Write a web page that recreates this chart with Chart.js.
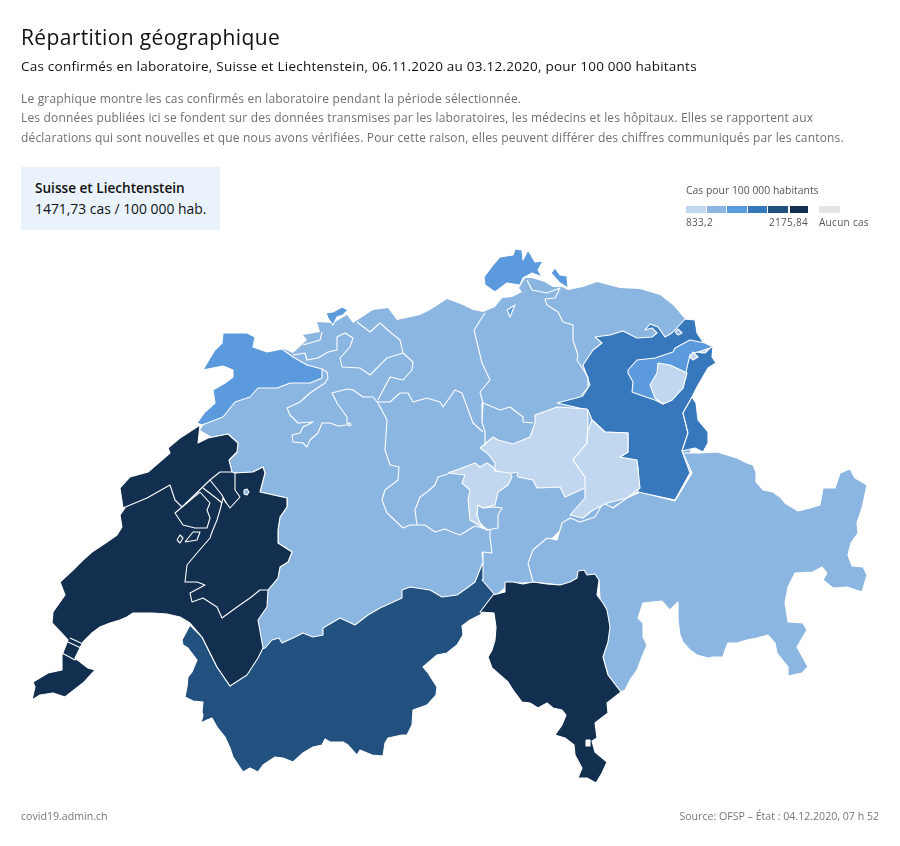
<!DOCTYPE html>
<html lang="fr">
<head>
<meta charset="utf-8">
<title>Répartition géographique</title>
<script src="https://cdn.jsdelivr.net/npm/chart.js@4.4.4/dist/chart.umd.min.js"></script>
<style>
  html, body { margin: 0; padding: 0; background: #fff; }
  body { width: 900px; height: 846px; position: relative; overflow: hidden; font-family: "Open Sans", sans-serif; }
  #map { position: absolute; left: 0; top: 0; }
  .txt { position: absolute; white-space: nowrap; line-height: 1; }
  #title { left: 21px; top: 27px; font-size: 21px; color: #111; letter-spacing: .36px; }
  #sub { left: 21px; top: 60px; font-size: 13.5px; color: #111; letter-spacing: .23px; }
  .desc { left: 21px; font-size: 12px; color: #6f6f6f; letter-spacing: .17px; }
  #box { position: absolute; left: 21px; top: 167px; width: 199px; height: 63px; background: #eaf2fb; }
  #boxName { left: 35px; top: 181px; font-size: 13.6px; font-weight: 600; color: #111; }
  #boxVal { left: 35px; top: 202px; font-size: 13.9px; color: #111; }
  #legTitle { left: 686px; top: 185px; font-size: 10.4px; color: #555; }
  .sw { position: absolute; top: 206px; height: 7px; }
  .legLab { top: 217px; font-size: 10px; color: #555; letter-spacing: .3px; }
  .foot { top: 811px; font-size: 10.6px; color: #777; }
</style>
</head>
<body>
<canvas id="map" width="900" height="846"></canvas>
<div class="txt" id="title">Répartition géographique</div>
<div class="txt" id="sub">Cas confirmés en laboratoire, Suisse et Liechtenstein, 06.11.2020 au 03.12.2020, pour 100 000 habitants</div>
<div class="txt desc" style="top:93px">Le graphique montre les cas confirmés en laboratoire pendant la période sélectionnée.</div>
<div class="txt desc" style="top:112px">Les données publiées ici se fondent sur des données transmises par les laboratoires, les médecins et les hôpitaux. Elles se rapportent aux</div>
<div class="txt desc" style="top:132px">déclarations qui sont nouvelles et que nous avons vérifiées. Pour cette raison, elles peuvent différer des chiffres communiqués par les cantons.</div>
<div id="box"></div>
<div class="txt" id="boxName">Suisse et Liechtenstein</div>
<div class="txt" id="boxVal">1471,73 cas / 100 000 hab.</div>
<div class="txt" id="legTitle">Cas pour 100 000 habitants</div>
<div id="legend"></div>
<div class="txt legLab" style="left:686px">833,2</div>
<div class="txt legLab" style="right:92px">2175,84</div>
<div class="txt legLab" style="left:819px">Aucun cas</div>
<div class="txt foot" style="left:21px">covid19.admin.ch</div>
<div class="txt foot" style="right:21px">Source: OFSP – État : 04.12.2020, 07 h 52</div>

<script>
/* ── Colour classes ───────────────────────────────────────────────── */
const CLASS_COLORS = ["#c1d7f0", "#8cb6e2", "#5b9adc", "#3778bc", "#22507f", "#132f4f"];
const NO_CASE_COLOR = "#e5e5e5";

/* ── Region outlines, map units ───────────────────────────────────── */
const mittelland = [[200,430],[225,445],[225,475],[258,485],[262,590],[250,625],[255,650],[290,660],[350,650],[410,620],[457,612],[490,600],[510,583],[533,582],[530,560],[560,530],[600,515],[640,490],[675,500],[690,470],[690,440],[686,400],[690,350],[685,319],[673,305],[660,295],[640,289],[620,288],[597,282],[583,287],[568,290],[562,287],[553,287],[545,282],[532,278],[525,278],[519,288],[522,292],[512,297],[502,298],[495,307],[483,312],[473,310],[463,305],[447,299],[430,310],[420,315],[397,320],[388,308],[373,310],[353,323],[347,315],[333,323],[317,322],[320,332],[303,335],[307,340],[293,353],[284,349],[260,360],[230,390]];
const jura = [[197,423],[205,412],[215,403],[213,390],[225,383],[233,377],[233,370],[223,366],[203,370],[210,358],[215,350],[222,343],[223,333],[233,333],[247,333],[255,337],[253,347],[267,352],[282,349],[293,357],[307,365],[322,369],[322,378],[310,383],[290,383],[277,388],[258,388],[250,397],[235,402],[223,417],[202,425]];
const baleVille = [[326,313],[333,312],[342,307],[348,310],[343,315],[337,317],[333,325],[328,318]];
const schaffhouse = [[484,277],[493,265],[500,257],[513,255],[515,249],[522,250],[523,260],[528,250],[535,262],[543,261],[538,270],[542,277],[532,273],[523,278],[520,285],[507,283],[495,292],[485,285]];
const schaffhouse2 = [[555,268],[560,275],[567,276],[568,288],[560,283],[551,273]];
const schaffhouse3 = [[507,310],[515,305],[510,317]];
const valais = [[190,625],[182,640],[183,645],[188,648],[197,660],[192,672],[188,677],[187,687],[185,697],[193,701],[203,702],[202,712],[203,715],[201,723],[207,720],[212,718],[217,727],[225,737],[230,748],[233,757],[243,772],[250,768],[258,772],[263,765],[275,757],[283,758],[293,762],[303,753],[313,747],[322,745],[325,739],[330,742],[343,742],[348,745],[357,755],[360,750],[372,755],[383,756],[385,743],[388,738],[402,735],[407,735],[412,725],[413,710],[427,705],[436,695],[437,687],[428,673],[423,667],[437,655],[447,653],[457,645],[463,635],[462,626],[470,620],[480,615],[495,595],[482,580],[483,562],[475,582],[467,588],[457,595],[442,597],[430,590],[410,587],[402,590],[402,598],[380,608],[368,615],[355,625],[340,618],[323,628],[323,635],[313,637],[303,633],[293,638],[282,643],[279,638],[272,640],[265,648],[258,650],[230,686],[217,667],[202,637]];
const grisons = [[528,563],[533,550],[547,538],[557,540],[562,523],[570,518],[580,522],[595,517],[603,503],[613,508],[627,498],[640,492],[675,501],[692,473],[683,453],[700,453],[717,452],[737,458],[747,463],[753,465],[756,472],[756,482],[763,490],[773,492],[780,497],[785,503],[793,508],[798,511],[810,508],[820,505],[823,488],[835,488],[840,473],[850,469],[855,478],[867,485],[862,508],[857,523],[858,533],[851,543],[848,555],[852,566],[863,567],[867,575],[862,592],[847,587],[833,588],[823,580],[827,573],[822,567],[813,572],[795,573],[788,587],[785,603],[788,622],[803,623],[807,630],[797,647],[808,667],[802,673],[788,676],[788,667],[777,653],[775,643],[768,635],[757,638],[747,640],[737,643],[728,643],[725,650],[723,657],[713,657],[708,658],[697,655],[690,650],[683,642],[680,635],[678,620],[678,602],[670,610],[662,601],[643,603],[638,618],[643,623],[643,637],[647,645],[642,657],[637,670],[630,680],[625,690],[621,692],[608,675],[603,657],[599,580],[560,585],[533,582]];
const tessin = [[505,582],[513,582],[523,584],[533,582],[547,584],[560,585],[570,582],[577,578],[578,571],[584,570],[587,575],[595,574],[599,580],[597,595],[603,603],[607,610],[610,627],[608,642],[603,657],[608,675],[621,692],[607,703],[608,713],[595,723],[597,738],[592,741],[595,752],[607,762],[602,773],[596,783],[587,778],[578,778],[582,768],[575,755],[574,745],[565,738],[555,735],[562,725],[566,715],[562,710],[553,708],[547,703],[538,708],[530,703],[522,702],[513,690],[508,682],[500,675],[492,668],[488,657],[492,650],[495,640],[496,627],[494,613],[480,612],[493,595],[505,592]];
const campione = [[586,740],[590,740],[590,746],[586,746]];
const saintGall = [[557,403],[580,397],[590,385],[583,365],[593,350],[602,343],[595,337],[610,335],[623,331],[637,338],[652,337],[657,333],[652,328],[645,330],[650,324],[658,327],[665,337],[672,333],[685,319],[695,320],[697,333],[703,342],[713,346],[712,357],[716,363],[708,368],[697,387],[692,397],[683,413],[688,433],[682,451],[690,473],[675,500],[638,492],[638,467],[620,457],[628,452],[628,433],[605,432],[592,420],[588,410]];
const liechtenstein = [[692,397],[696,403],[698,420],[708,432],[708,443],[703,452],[695,448],[682,451],[688,433],[683,413]];
const enclaveSg = [[675,332],[678,329],[682,333],[678,335]];
const appenzellRh = [[628,370],[637,360],[655,358],[673,352],[675,348],[690,340],[705,343],[713,347],[705,350],[703,353],[697,352],[690,355],[688,363],[685,377],[683,388],[672,400],[663,404],[655,400],[640,395],[632,392],[633,382],[628,373]];
const appenzellRi = [[658,363],[670,365],[687,373],[683,388],[672,400],[663,404],[655,398],[650,385],[657,373]];
const appenzellRi2 = [[690,357],[693,352],[698,357],[693,360]];
const appenzellRi3 = [[698,352],[710,348],[705,353]];
const schwyz = [[480,448],[493,437],[498,440],[513,444],[530,437],[535,423],[535,415],[557,407],[587,409],[588,418],[587,443],[573,460],[585,477],[587,487],[565,497],[560,487],[537,488],[533,480],[518,477],[517,472],[503,475],[495,470],[495,463],[487,453]];
const glaris = [[592,420],[605,432],[628,433],[628,452],[620,457],[637,460],[640,488],[627,498],[607,503],[593,510],[583,518],[570,515],[585,498],[585,477],[573,460],[587,443],[588,430]];
const obwald = [[448,473],[462,468],[475,463],[480,467],[487,463],[493,467],[495,471],[510,473],[512,477],[508,485],[498,492],[495,505],[483,508],[478,505],[477,515],[480,523],[487,530],[470,520],[468,500],[470,490],[462,483],[465,475]];
const nidwald = [[478,505],[483,508],[495,507],[502,508],[498,515],[498,528],[487,530],[480,523],[477,515]];
const vaud = [[200,425],[198,443],[208,438],[228,434],[238,443],[237,452],[229,460],[232,472],[235,473],[253,472],[263,467],[265,473],[260,492],[287,498],[287,507],[280,517],[278,530],[278,543],[292,552],[288,562],[280,567],[278,578],[268,590],[267,607],[258,620],[263,648],[258,658],[247,675],[230,686],[217,667],[202,637],[190,623],[180,617],[167,614],[153,613],[133,613],[127,617],[120,620],[110,623],[100,627],[92,633],[83,642],[75,658],[88,668],[95,670],[83,683],[65,697],[53,693],[40,695],[32,700],[35,687],[33,682],[48,673],[62,670],[62,655],[68,640],[52,623],[53,612],[65,595],[60,582],[73,570],[83,560],[92,552],[107,542],[117,535],[122,527],[120,515],[125,508],[120,488],[130,477],[148,472],[170,453],[168,448],[180,438]];
const neuchatel = [[123,508],[120,488],[130,477],[148,472],[170,453],[168,448],[180,438],[200,425],[198,443],[208,438],[228,434],[238,443],[237,452],[229,460],[232,472],[220,472],[210,480],[182,507],[175,500],[170,485],[147,498]];
const fribourg = [[268,590],[278,578],[280,567],[288,562],[292,552],[278,543],[278,530],[280,517],[287,507],[287,498],[260,492],[265,473],[263,467],[253,472],[235,473],[235,490],[240,497],[230,508],[223,498],[220,510],[217,520],[212,532],[210,538],[197,553],[187,565],[185,582],[197,582],[205,585],[190,593],[192,602],[203,598],[217,607],[222,618],[237,607],[250,598],[260,590]];
const estavayer = [[200,492],[175,513],[183,525],[195,528],[207,528],[210,518],[207,510],[210,503]];
const enclaveVd1 = [[177,540],[180,535],[183,538],[180,543]];
const enclaveVd2 = [[185,542],[193,532],[200,532],[197,540]];
const enclaveLac = [[244,490],[247,489],[249,492],[247,495],[244,494]];
const enclaveSo = [[348,423],[350,423],[351,425],[349,426]];

/* ── Inner borders that close no shape of their own ───────────────── */
const limiteBerne = [[322,369],[327,372],[328,378],[325,383],[310,393],[300,402],[287,408],[290,415],[298,423],[313,422],[303,427],[300,433],[292,435],[293,442],[303,443],[307,447],[310,440],[318,433],[322,423],[330,423],[338,426],[347,425],[347,417],[337,403],[332,393],[347,389],[353,390],[363,397],[373,397],[378,403],[387,420],[385,450],[390,465],[399,467],[398,480],[385,490],[382,500],[387,513],[403,528],[410,525],[425,525],[435,532],[445,529],[452,532],[460,535],[475,526],[482,528],[490,530],[490,538],[492,553],[482,552],[483,562]];
const limiteLucerne = [[417,525],[415,510],[420,497],[427,492],[435,485],[438,477],[448,474]];
const limiteSoleure = [[378,400],[390,377],[403,380],[412,370],[413,362],[403,353],[400,340],[390,332],[380,323],[370,332],[357,322]];
const limiteBale = [[403,353],[387,358],[370,375],[360,368],[342,367],[340,358],[350,347],[353,338],[345,333],[337,337],[337,350],[328,352],[318,358],[307,360],[305,353],[293,355]];
const limiteBale2 = [[303,345],[320,340],[322,332]];
const limiteArgovie = [[377,402],[390,402],[400,393],[408,393],[413,402],[427,398],[440,402],[443,407],[455,390],[462,393],[473,423],[483,432]];
const limiteZurichO = [[485,313],[474,330],[482,363],[490,380],[480,392],[483,403],[482,422],[485,432],[485,445]];
const limiteZurichE = [[527,280],[532,290],[547,293],[560,288],[555,298],[545,299],[547,305],[558,312],[563,322],[573,325],[573,340],[578,355],[577,360],[588,377],[588,388],[582,397]];
const limiteZoug = [[483,403],[500,410],[510,407],[523,417],[523,422],[533,423]];
const limiteVully1 = [[210,480],[222,495],[226,503]];
const limiteVully2 = [[203,488],[216,498],[222,503]];
const limiteGeneve1 = [[70,638],[83,644]];
const limiteGeneve2 = [[68,642],[81,648]];
const limiteGeneve3 = [[62,653],[75,660],[80,652]];

/* Class index per region, drawn back to front */
const regionShapes = [mittelland, jura, baleVille, schaffhouse, schaffhouse2, schaffhouse3, valais, grisons, tessin, campione, saintGall, liechtenstein, enclaveSg, appenzellRh, appenzellRi, appenzellRi2, appenzellRi3, schwyz, glaris, obwald, nidwald, enclaveSo, vaud, neuchatel, fribourg, estavayer, enclaveVd1, enclaveVd2, enclaveLac];
const regionClasses = [1, 2, 2, 2, 2, 2, 4, 1, 5, -1, 3, 3, 1, 2, 0, 0, 0, 0, 0, 0, 1, 1, 5, 5, 5, 5, 5, 5, 1];
const borderLines = [limiteBerne, limiteLucerne, limiteSoleure, limiteBale, limiteBale2, limiteArgovie, limiteZurichO, limiteZurichE, limiteZoug, limiteVully1, limiteVully2, limiteGeneve1, limiteGeneve2, limiteGeneve3];

/* ── Legend swatches ──────────────────────────────────────────────── */
const legendEl = document.getElementById("legend");
const swatchLeft = [686, 707, 727, 748, 768, 790];
const swatchWidth = [20, 19, 20, 19, 20, 18];
CLASS_COLORS.forEach((c, i) => {
  legendEl.insertAdjacentHTML("beforeend", `<div class="sw" style="left:${swatchLeft[i]}px;width:${swatchWidth[i]}px;background:${c}"></div>`);
});
legendEl.insertAdjacentHTML("beforeend", `<div class="sw" style="left:819px;width:21px;background:${NO_CASE_COLOR}"></div>`);

/* ── Chart ────────────────────────────────────────────────────────── */
const toPoints = pts => pts.map(([x, y]) => ({ x, y }));

const shapeSets = regionShapes.map((pts, i) => ({
  data: toPoints([...pts, pts[0]]),
  showLine: true,
  fill: "shape",
  backgroundColor: regionClasses[i] < 0 ? "#fff" : CLASS_COLORS[regionClasses[i]],
  borderColor: "#fff",
  borderWidth: i === 0 ? 0 : 1.1,
  borderJoinStyle: "round",
  pointRadius: 0,
  tension: 0,
  order: regionShapes.length + 20 - i
}));
const lineSets = borderLines.map(pts => ({
  data: toPoints(pts),
  showLine: true,
  fill: false,
  borderColor: "#fff",
  borderWidth: 1.1,
  borderJoinStyle: "round",
  pointRadius: 0,
  tension: 0,
  order: 0
}));

new Chart(document.getElementById("map"), {
  type: "scatter",
  data: { datasets: [...shapeSets, ...lineSets] },
  options: {
    responsive: false,
    animation: false,
    events: [],
    layout: { padding: 0 },
    plugins: { legend: { display: false }, tooltip: { enabled: false }, title: { display: false } },
    scales: {
      x: { type: "linear", min: 0, max: 900, display: false },
      y: { type: "linear", min: 0, max: 846, reverse: true, display: false }
    }
  }
});
</script>
</body>
</html>
